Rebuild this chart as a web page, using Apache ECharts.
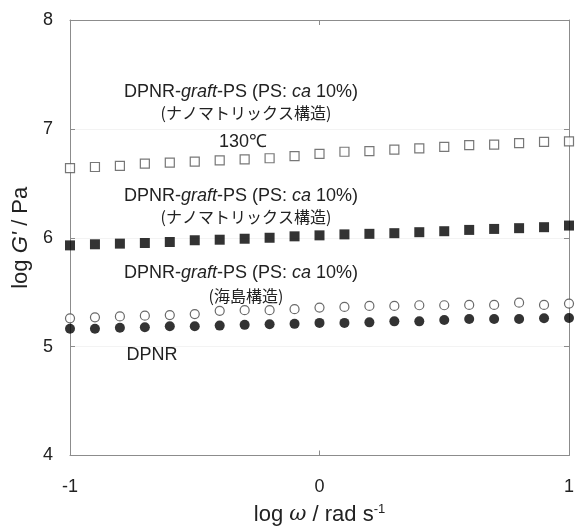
<!DOCTYPE html>
<html>
<head>
<meta charset="utf-8">
<script src="https://cdn.jsdelivr.net/npm/echarts@6/dist/echarts.min.js"></script>
<style>
  html, body { margin: 0; padding: 0; background: #fff; }
  #chart { width: 577px; height: 531px; }
</style>
</head>
<body>
<div id="chart"></div>
<script>
// log omega, -1 .. 1 step 0.1
const logOmega = [-1, -0.9, -0.8, -0.7, -0.6, -0.5, -0.4, -0.3, -0.2, -0.1, 0,
  0.1, 0.2, 0.3, 0.4, 0.5, 0.6, 0.7, 0.8, 0.9, 1]
// log G' values
const nanoMatrix130 = [6.64, 6.65, 6.66, 6.68, 6.69, 6.70, 6.71, 6.72, 6.73, 6.75, 6.77,
  6.79, 6.795, 6.81, 6.82, 6.835, 6.85, 6.855, 6.87, 6.88, 6.885]
const nanoMatrix = [5.93, 5.94, 5.946, 5.952, 5.961, 5.977, 5.982, 5.991, 6.0, 6.013, 6.022,
  6.031, 6.036, 6.042, 6.051, 6.06, 6.072, 6.081, 6.088, 6.097, 6.112]
const seaIsland = [5.26, 5.269, 5.277, 5.284, 5.29, 5.299, 5.329, 5.335, 5.335, 5.344, 5.359,
  5.365, 5.374, 5.374, 5.38, 5.38, 5.383, 5.383, 5.404, 5.383, 5.395]
const dpnr = [5.164, 5.164, 5.173, 5.178, 5.187, 5.187, 5.193, 5.2, 5.205, 5.209, 5.218,
  5.218, 5.223, 5.232, 5.232, 5.245, 5.254, 5.254, 5.254, 5.26, 5.263]

const pairs = ys => logOmega.map((x, i) => [x, ys[i]])

const chart = echarts.init(document.getElementById('chart'))
const font = 'Liberation Sans, Arial, sans-serif'
const jp = '"Noto Sans CJK JP", Liberation Sans, sans-serif'
const axisGray = '#8c8c8c'

const graftLine = '{n|DPNR-}{i|graft}{n|-PS (PS: }{i|ca}{n| 10%)}'
const rich = {
  n: { fontFamily: font, fontSize: 18, color: '#222' },
  i: { fontFamily: font, fontSize: 18, color: '#222', fontStyle: 'italic' }
}

// annotation lines: centre x / y
const texts = [
  { x: 241, y: 92, t: graftLine },
  { x: 246, y: 113, t: '(ナノマトリックス構造)', jp: true },
  { x: 243, y: 142, t: '130℃' },
  { x: 241, y: 196, t: graftLine },
  { x: 246, y: 217, t: '(ナノマトリックス構造)', jp: true },
  { x: 241, y: 273, t: graftLine },
  { x: 246, y: 296, t: '(海島構造)', jp: true },
  { x: 152, y: 355, t: 'DPNR' }
]

const boxAxis = {
  axisLine: { onZero: false, lineStyle: { color: axisGray } },
  axisTick: { show: true, inside: true, length: 5, lineStyle: { color: axisGray } }
}

const option = {
  animation: false,
  grid: { left: 70, right: 8, top: 20, bottom: 69 },
  xAxis: [
    {
      type: 'value', min: -1, max: 1, interval: 1,
      name: '{n|log }{w|ω}{n| / rad s}{s|-1}',
      nameLocation: 'middle', nameGap: 47,
      nameTextStyle: {
        rich: {
          n: { fontFamily: font, fontSize: 22, color: '#222' },
          w: { fontFamily: 'DejaVu Serif, serif', fontSize: 21, color: '#222', fontStyle: 'italic' },
          s: { fontFamily: font, fontSize: 13, color: '#222', padding: [0, 0, 12, 0] }
        }
      },
      ...boxAxis,
      axisLabel: { fontFamily: font, fontSize: 18, color: '#222', margin: 23 },
      splitLine: { show: false }
    },
    {
      type: 'value', min: -1, max: 1, interval: 1, position: 'top',
      ...boxAxis,
      axisLabel: { show: false }, splitLine: { show: false }
    }
  ],
  yAxis: [
    {
      type: 'value', min: 4, max: 8, interval: 1,
      name: "{n|log }{i|G'}{n| / Pa}",
      nameLocation: 'middle', nameGap: 33, nameRotate: 90,
      nameTextStyle: {
        rich: {
          n: { fontFamily: font, fontSize: 22, color: '#222' },
          i: { fontFamily: font, fontSize: 22, color: '#222', fontStyle: 'italic' }
        }
      },
      ...boxAxis,
      axisLine: { show: true, onZero: false, lineStyle: { color: axisGray } },
      axisLabel: { fontFamily: font, fontSize: 18, color: '#222', margin: 17 },
      splitLine: { show: true, lineStyle: { color: '#f3f3f3' } }
    },
    {
      type: 'value', min: 4, max: 8, interval: 1, position: 'right',
      ...boxAxis,
      axisLine: { show: true, onZero: false, lineStyle: { color: axisGray } },
      axisLabel: { show: false }, splitLine: { show: false }
    }
  ],
  series: [
    {
      type: 'scatter', data: pairs(nanoMatrix130), symbol: 'rect', symbolSize: 9,
      itemStyle: { color: '#fff', borderColor: '#555', borderWidth: 1.2 }
    },
    {
      type: 'scatter', data: pairs(nanoMatrix), symbol: 'rect', symbolSize: 10,
      itemStyle: { color: '#000' }
    },
    {
      type: 'scatter', data: pairs(seaIsland), symbol: 'circle', symbolSize: 9,
      itemStyle: { color: '#fff', borderColor: '#444', borderWidth: 1.2 }
    },
    {
      type: 'scatter', data: pairs(dpnr), symbol: 'circle', symbolSize: 10,
      itemStyle: { color: '#000' }
    }
  ],
  graphic: texts.map(d => ({
    type: 'text', x: d.x, y: d.y, z: 10,
    style: d.jp
      ? { text: d.t, font: '16px ' + jp, fill: '#222', align: 'center', verticalAlign: 'middle' }
      : { text: d.t, rich: rich, font: '18px ' + font, fill: '#222', align: 'center', verticalAlign: 'middle' }
  }))
}
chart.setOption(option)
</script>
</body>
</html>
